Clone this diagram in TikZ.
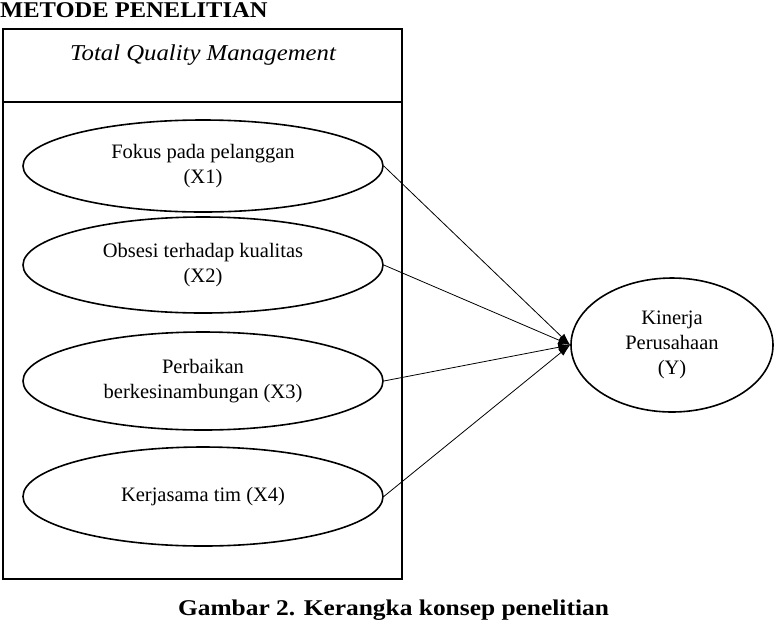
\documentclass[tikz,border=0pt]{standalone}
\usepackage{fontspec}
\setmainfont{Liberation Serif}
\usetikzlibrary{shapes.geometric,arrows.meta}
\tikzset{
  var/.style={ellipse,draw,line width=1.6pt,inner sep=0pt,minimum width=360pt,align=center,
    font=\fontsize{20.5}{25}\selectfont},
  conn/.style={line width=0.8pt,-{Latex[length=12pt,width=8pt]}},
  frame/.style={draw,line width=2pt},
}
\begin{document}
\begin{tikzpicture}[x=1pt,y=-1pt]
\useasboundingbox (0,0) rectangle (775,622);
% heading
\node[anchor=base west,inner sep=0pt,font=\fontsize{22.5}{27}\selectfont\bfseries] (head) at (0,17) {\scalebox{1.09}[1]{METODE PENELITIAN}};
% frame
\draw[frame] (3,29) rectangle (402,579);
\draw[frame] (3,102) coordinate (dl) -- (402,102) coordinate (dr);
\node[anchor=base,inner sep=0pt,font=\fontsize{22.7}{27}\selectfont\itshape] (tqm) at (203,60) {\scalebox{1.09}[1]{Total Quality Management}};
% ellipses
\node[var,minimum height=92pt] (x1) at (203,166) {Fokus pada pelanggan\\(X1)};
\node[var,minimum height=96pt] (x2) at (203,265) {Obsesi terhadap kualitas\\(X2)};
\node[var,minimum height=98pt] (x3) at (203,381) {Perbaikan\\berkesinambungan (X3)};
\node[var,minimum height=99pt] (x4) at (203,496.5) {Kerjasama tim (X4)};
\node[var,minimum width=202pt,minimum height=134pt] (y) at (672,345) {Kinerja\\Perusahaan\\(Y)};
% connectors
\draw[conn] (x1.east) -- (y.west);
\draw[conn] (x2.east) -- (y.west);
\draw[conn] (x3.east) -- (y.west);
\draw[conn] (x4.east) -- (y.west);
% caption
\node[anchor=base,inner sep=0pt,font=\fontsize{22.5}{27}\selectfont\bfseries] (cap) at (393.5,615) {\scalebox{1.13}[1]{Gambar 2. Kerangka konsep penelitian}};
\end{tikzpicture}
\end{document}
